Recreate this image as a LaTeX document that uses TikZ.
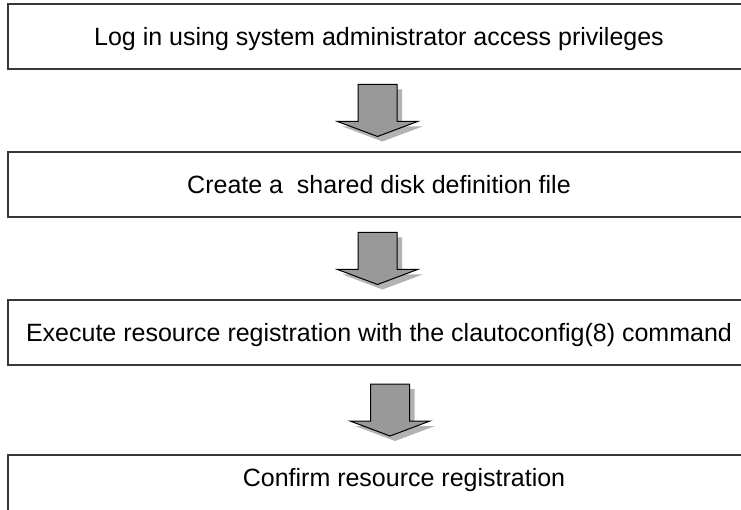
\documentclass[tikz,border=0pt]{standalone}
\usepackage{fontspec}
\setmainfont{Liberation Sans}
\usetikzlibrary{positioning,shadows,calc}
\definecolor{boxline}{RGB}{55,55,55}
\definecolor{arrowgray}{RGB}{153,153,153}

% block arrow centred in the gap between two boxes
\newcommand{\flowarrow}[2]{%
  \coordinate (#1-#2) at ($(#1.south)!0.5!(#2.north)+(-1.5,0)$);
  \draw[blockarrow] ($(#1-#2)+(-19.5,26)$) -- ++(39,0) -- ++(0,-37) -- ++(20.5,0)
    -- ($(#1-#2)+(0,-26)$) -- ($(#1-#2)+(-40,-11)$) -- ++(20.5,0) -- cycle;
}

\begin{document}
\begin{tikzpicture}[
  x=1pt, y=1pt,
  stepbox/.style={rectangle, draw=boxline, line width=2pt, fill=white,
                  minimum width=742pt, minimum height=65pt,
                  text height=18pt, text depth=0pt,
                  font=\fontsize{25}{29}\selectfont},
  blockarrow/.style={draw=black, line width=1pt, fill=arrowgray,
                     drop shadow={shadow xshift=5pt, shadow yshift=-5pt,
                                  fill=black, opacity=0.3}}
]
\useasboundingbox (0,0) rectangle (741,-510);
\clip (0,0) rectangle (741,-510);
\node[stepbox] (login) at (379,-36.5) {Log in using system administrator access privileges};
\node[stepbox, below=81pt of login] (create) {Create a\ \ shared disk definition file};
\node[stepbox, below=81pt of create] (config) {Execute resource registration with the clautoconfig(8) command};
\node[stepbox, below=88pt of config, xshift=25pt, minimum width=792pt,
      minimum height=80pt, text depth=36pt] (confirm) {Confirm resource registration};
\flowarrow{login}{create}
\flowarrow{create}{config}
\flowarrow{config}{confirm}
\end{tikzpicture}
\end{document}
